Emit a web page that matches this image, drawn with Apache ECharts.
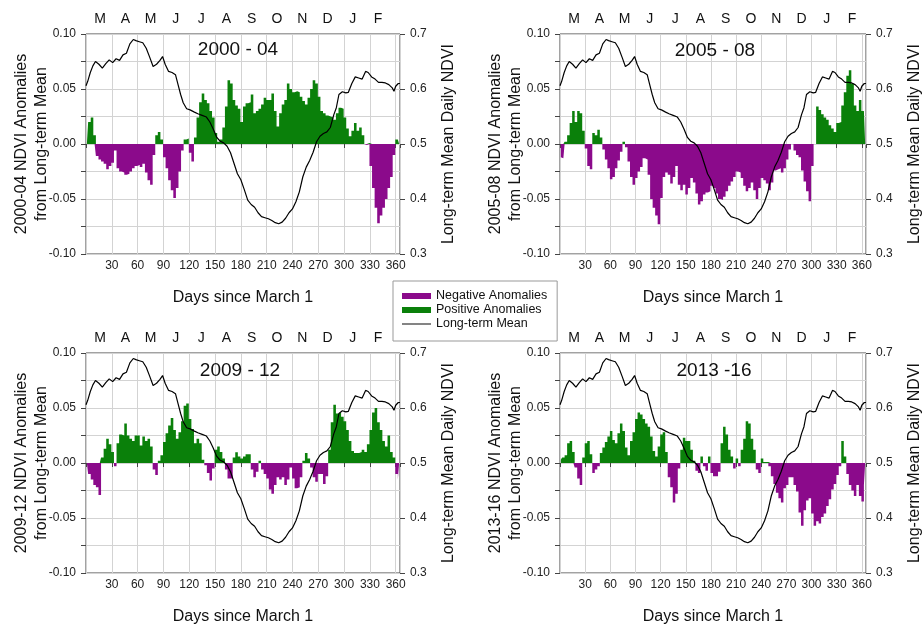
<!DOCTYPE html>
<html>
<head>
<meta charset="utf-8">
<script src="https://cdn.jsdelivr.net/npm/echarts@6/dist/echarts.min.js"></script>
<style>
  html, body { margin: 0; padding: 0; background: #ffffff; }
  #chart { width: 924px; height: 632px; }
</style>
</head>
<body>
<div id="chart"></div>
<script>
// Month initials along the top of each panel (March .. February)
const months = ['M', 'A', 'M', 'J', 'J', 'A', 'S', 'O', 'N', 'D', 'J', 'F'];

// Anomalies sampled every 3 days starting on day 1 (days since March 1)
const anom0004 = [
  0, 0.02, 0.024, 0.008, -0.011, -0.014, -0.016, -0.018, -0.023, -0.02,
  -0.017, -0.006, -0.022, -0.025, -0.026, -0.028, -0.027, -0.025, -0.022, -0.02,
  -0.019, -0.021, -0.018, -0.026, -0.033, -0.037, -0.01, 0.008, 0.011, 0.004,
  -0.012, -0.022, -0.033, -0.042, -0.049, -0.04, -0.025, -0.006, 0.004, 0.005,
  -0.008, -0.016, 0.006, 0.024, 0.038, 0.046, 0.04, 0.037, 0.03, 0.024,
  0.01, 0.002, 0.004, 0.015, 0.034, 0.058, 0.055, 0.04, 0.035, 0.032,
  0.02, 0.034, 0.037, 0.038, 0.045, 0.028, 0.03, 0.032, 0.036, 0.042,
  0.04, 0.04, 0.046, 0.03, 0.016, 0.028, 0.036, 0.04, 0.055, 0.05,
  0.047, 0.048, 0.047, 0.043, 0.039, 0.036, 0.042, 0.05, 0.058, 0.055,
  0.043, 0.03, 0.028, 0.026, 0.025, 0.024, 0.022, 0.028, 0.033, 0.032,
  0.024, 0.014, 0.007, 0.012, 0.019, 0.012, 0.015, 0.008, -0.001, 0.001,
  -0.02, -0.04, -0.058, -0.072, -0.065, -0.058, -0.05, -0.04, -0.03, -0.01,
  0.004, 0.005
];
const anom0508 = [
  -0.012, -0.013, 0.002, 0.008, 0.019, 0.03, 0.02, 0.03, 0.028, 0.012,
  -0.004, -0.02, -0.023, 0.01, 0.008, 0.013, 0.006, -0.005, -0.014, -0.022,
  -0.032, -0.03, -0.022, -0.015, -0.007, 0.002, -0.003, -0.016, -0.03, -0.037,
  -0.031, -0.025, -0.021, -0.013, -0.014, -0.028, -0.05, -0.058, -0.065, -0.073,
  -0.049, -0.03, -0.026, -0.028, -0.036, -0.03, -0.02, -0.037, -0.042, -0.037,
  -0.046, -0.04, -0.031, -0.035, -0.045, -0.055, -0.052, -0.046, -0.044, -0.043,
  -0.038, -0.04, -0.045, -0.05, -0.051, -0.048, -0.043, -0.038, -0.034, -0.03,
  -0.025, -0.026, -0.031, -0.038, -0.043, -0.04, -0.035, -0.042, -0.05, -0.04,
  -0.031, -0.033, -0.036, -0.042, -0.035, -0.024, -0.023, -0.022, -0.026, -0.022,
  -0.014, -0.005, 0, -0.006, -0.01, -0.012, -0.024, -0.034, -0.043, -0.052,
  -0.02, 0, 0.034, 0.031, 0.027, 0.024, 0.022, 0.017, 0.014, 0.011,
  0.019, 0.02, 0.035, 0.047, 0.062, 0.067, 0.055, 0.035, 0.03, 0.04,
  0.03, 0.031
];
const anom0912 = [
  0, -0.01, -0.015, -0.02, -0.022, -0.029, 0.005, 0.013, 0.022, 0.017,
  0.01, -0.003, 0.018, 0.026, 0.025, 0.036, 0.025, 0.022, 0.02, 0.025,
  0.025, 0.016, 0.024, 0.02, 0.022, 0.015, -0.006, -0.011, 0.002, 0.007,
  0.019, 0.027, 0.034, 0.041, 0.03, 0.022, 0.028, 0.038, 0.052, 0.054,
  0.04, 0.031, 0.018, 0.022, 0.018, 0.003, -0.002, -0.009, -0.016, -0.005,
  0.012, 0.015, 0.01, 0.004, -0.006, -0.014, -0.014, 0.005, 0.0097, 0.006,
  0.004, 0.006, 0.008, 0.008, -0.006, -0.013, -0.008, 0.002, -0.006, -0.01,
  -0.014, -0.024, -0.028, -0.02, -0.013, -0.015, -0.013, -0.02, -0.015, -0.004,
  -0.014, -0.023, -0.022, -0.013, 0.002, 0.009, 0.004, -0.004, -0.013, -0.017,
  -0.01, -0.01, -0.019, -0.012, 0.012, 0.037, 0.053, 0.045, 0.046, 0.042,
  0.038, 0.03, 0.02, 0.011, 0.009, 0.009, 0.01, 0.012, 0.01, 0.017,
  0.03, 0.046, 0.05, 0.037, 0.03, 0.02, 0.015, 0.025, 0.01, 0.005,
  -0.01, -0.015
];
const anom1316 = [
  0.003, 0.005, 0.007, 0.018, 0.02, 0.01, -0.004, -0.014, -0.02, 0.005,
  0.018, 0.02, 0.008, -0.009, -0.006, -0.003, 0.009, 0.014, 0.019, 0.024,
  0.029, 0.021, 0.018, 0.027, 0.036, 0.029, 0.014, 0.007, 0.02, 0.028,
  0.04, 0.046, 0.044, 0.04, 0.036, 0.033, 0.024, 0.011, 0.006, 0.015,
  0.026, 0.028, 0.01, -0.013, -0.022, -0.036, -0.028, -0.005, 0.012, 0.023,
  0.02, 0.02, 0.012, 0.002, -0.007, -0.009, 0.006, -0.003, -0.007, 0.006,
  -0.009, -0.012, -0.012, -0.008, 0.018, 0.033, 0.026, 0.012, 0.006, -0.005,
  0.004, -0.003, 0.012, 0.022, 0.038, 0.036, 0.022, 0.012, -0.006, -0.009,
  0.004, 0.001, 0.001, -0.003, -0.012, -0.019, -0.027, -0.032, -0.036, -0.023,
  -0.02, -0.013, -0.013, -0.02, -0.026, -0.045, -0.057, -0.043, -0.034, -0.032,
  -0.046, -0.057, -0.053, -0.055, -0.049, -0.046, -0.039, -0.033, -0.024, -0.019,
  -0.011, -0.003, 0.02, 0.006, -0.01, -0.02, -0.025, -0.03, -0.02, -0.03,
  -0.035, -0.02
];

// Long-term mean daily NDVI (right axis), as [day] / [value] pairs
const meanDays = [
  0, 2, 5, 8, 11, 15, 19, 23, 27, 31, 35, 39, 43, 47, 51, 55, 58, 62, 66, 70,
  74, 78, 82, 86, 89, 92, 96, 100, 104, 107, 110, 113, 117, 121, 126, 130, 135, 140, 144, 148,
  152, 156, 160, 164, 168, 172, 176, 180, 184, 188, 192, 196, 200, 204, 208, 212, 216, 220, 224, 228,
  232, 236, 240, 244, 248, 252, 256, 260, 264, 268, 272, 276, 280, 284, 288, 291, 294, 298, 302, 305,
  309, 313, 317, 321, 325, 328, 332, 336, 340, 344, 348, 352, 356, 358, 360, 363, 365
];
const meanNDVI = [
  0.606, 0.614, 0.630, 0.642, 0.650, 0.645, 0.638, 0.646, 0.653, 0.648,
  0.655, 0.652, 0.662, 0.665, 0.682, 0.690, 0.688, 0.686, 0.684, 0.674,
  0.658, 0.641, 0.645, 0.652, 0.659, 0.645, 0.632, 0.630, 0.626, 0.608,
  0.590, 0.575, 0.564, 0.562, 0.558, 0.555, 0.552, 0.549, 0.540, 0.527,
  0.512, 0.505, 0.502, 0.496, 0.484, 0.465, 0.446, 0.435, 0.417, 0.398,
  0.390, 0.385, 0.375, 0.368, 0.366, 0.364, 0.361, 0.357, 0.355, 0.358,
  0.365, 0.375, 0.382, 0.395, 0.413, 0.440, 0.458, 0.470, 0.485, 0.504,
  0.514, 0.519, 0.522, 0.530, 0.553, 0.566, 0.590, 0.595, 0.593, 0.594,
  0.610, 0.622, 0.620, 0.618, 0.632, 0.630, 0.622, 0.618, 0.612, 0.612,
  0.611, 0.608, 0.602, 0.596, 0.605, 0.610, 0.610
];

const sampleDays = anom0004.map((_, i) => 1 + 3 * i);

const FONT = '"Liberation Sans", Arial, sans-serif';
const NEG = '#8b0a8b';
const POS = '#0a800a';
const GRIDLINE = '#d3d3d3';

const panels = [
  { period: '2000-04', title: '2000 - 04', values: anom0004, left: 86,  top: 34,  tx: 238, ty: 50 },
  { period: '2005-08', title: '2005 - 08', values: anom0508, left: 560, top: 34,  tx: 715, ty: 51 },
  { period: '2009-12', title: '2009 - 12', values: anom0912, left: 86,  top: 353, tx: 240, ty: 371 },
  { period: '2013-16', title: '2013 -16',  values: anom1316, left: 560, top: 353, tx: 714, ty: 371 }
];

const grid = [], xAxis = [], yAxis = [], series = [], graphic = [];

// plotting grids 0..3
panels.forEach((p) => {
  grid.push({
    left: p.left, top: p.top, width: 314, height: 220,
    show: true, borderColor: '#444', borderWidth: 1, backgroundColor: 'transparent'
  });
  graphic.push({
    type: 'text', x: p.tx, y: p.ty, z: 10,
    style: { text: p.title, font: '19px ' + FONT, fill: '#111', textAlign: 'center', textVerticalAlign: 'middle' }
  });
});
// month strips 4..7 (slightly narrower than the plotting area)
panels.forEach((p) => {
  grid.push({ left: p.left + 1.4, top: p.top, width: 303.3, height: 220, show: false });
});

// bottom day axes (0..3)
panels.forEach((p, i) => {
  xAxis.push({
    gridIndex: i, type: 'value', min: 0, max: 365, interval: 30,
    axisLine: { show: false },
    axisTick: { show: true, length: 4, lineStyle: { color: '#444' } },
    axisLabel: {
      fontFamily: FONT, fontSize: 12, color: '#222', margin: 6,
      formatter: v => (v > 0 && v % 30 === 0) ? String(v) : ''
    },
    splitLine: { show: true, lineStyle: { color: GRIDLINE, width: 1 } },
    name: 'Days since March 1', nameLocation: 'middle', nameGap: 36,
    nameTextStyle: { fontFamily: FONT, fontSize: 16, color: '#111' }
  });
});
// top month axes (4..7)
panels.forEach((p, i) => {
  xAxis.push({
    gridIndex: 4 + i, type: 'category', position: 'top', data: months, boundaryGap: true,
    axisLine: { show: false }, axisTick: { show: false }, splitLine: { show: false },
    axisLabel: { fontFamily: FONT, fontSize: 14, color: '#111', margin: 8, interval: 0 }
  });
});

// left anomaly axes (0..3)
panels.forEach((p, i) => {
  yAxis.push({
    gridIndex: i, type: 'value', min: -0.1, max: 0.1, interval: 0.025,
    axisLine: { show: false },
    axisTick: { show: true, length: 5, lineStyle: { color: '#444' } },
    axisLabel: {
      fontFamily: FONT, fontSize: 12, color: '#222', margin: 10,
      formatter: v => (Math.round(v * 1000) % 50 === 0) ? v.toFixed(2) : ''
    },
    splitLine: { show: true, lineStyle: { color: GRIDLINE, width: 1 } },
    name: p.period + ' NDVI Anomalies\nfrom Long-term Mean',
    nameLocation: 'middle', nameRotate: 90, nameGap: 34, nameMoveOverlap: false,
    nameTextStyle: { fontFamily: FONT, fontSize: 16, color: '#111', lineHeight: 20, align: 'center' }
  });
});
// right NDVI axes (4..7)
panels.forEach((p, i) => {
  yAxis.push({
    gridIndex: i, type: 'value', position: 'right', min: 0.3, max: 0.7, interval: 0.1,
    axisLine: { show: false },
    axisTick: { show: true, length: 5, lineStyle: { color: '#444' } },
    axisLabel: { fontFamily: FONT, fontSize: 12, color: '#222', margin: 10, formatter: v => v.toFixed(1) },
    splitLine: { show: false },
    name: 'Long-term Mean Daily NDVI', nameLocation: 'middle', nameRotate: 90, nameGap: 41,
    nameTextStyle: { fontFamily: FONT, fontSize: 16, color: '#111' }
  });
});
// hidden companions for the month strips (8..11)
panels.forEach((p, i) => {
  yAxis.push({ gridIndex: 4 + i, type: 'value', show: false, min: 0, max: 1 });
});

// daily anomaly columns: contiguous stepped fills from zero, split by sign
function anomalySeries(name, color, i, values, pick) {
  return {
    name, type: 'line', xAxisIndex: i, yAxisIndex: i,
    step: 'middle', symbol: 'none', z: 2,
    lineStyle: { width: 0, color },
    itemStyle: { color },
    areaStyle: { color, opacity: 1 },
    data: sampleDays.map((d, k) => [d, pick(values[k])])
  };
}

panels.forEach((p, i) => {
  series.push(anomalySeries('Negative Anomalies', NEG, i, p.values, v => Math.min(v, 0)));
  series.push(anomalySeries('Positive Anomalies', POS, i, p.values, v => Math.max(v, 0)));
  series.push({
    name: 'Long-term Mean', type: 'line', xAxisIndex: i, yAxisIndex: 4 + i,
    symbol: 'none', z: 5,
    lineStyle: { color: '#000', width: 1.2 }, itemStyle: { color: '#000' },
    data: meanDays.map((d, k) => [d, meanNDVI[k]])
  });
});

const chart = echarts.init(document.getElementById('chart'), null, { renderer: 'canvas' });
chart.setOption({
  animation: false,
  backgroundColor: '#ffffff',
  textStyle: { fontFamily: FONT },
  legend: {
    orient: 'vertical', left: 393, top: 281,
    data: [
      { name: 'Negative Anomalies', icon: 'rect', itemStyle: { color: NEG } },
      { name: 'Positive Anomalies', icon: 'rect', itemStyle: { color: POS } },
      { name: 'Long-term Mean', icon: 'path://M0,0H30V1H0Z', itemStyle: { color: '#000' } }
    ],
    itemWidth: 29, itemHeight: 6, itemGap: 0,
    padding: [8, 10, 10, 9],
    borderColor: '#999', borderWidth: 1,
    textStyle: { fontFamily: FONT, fontSize: 12.5, color: '#111', lineHeight: 14 },
    selectedMode: false
  },
  grid, xAxis, yAxis, series, graphic
});
</script>
</body>
</html>
